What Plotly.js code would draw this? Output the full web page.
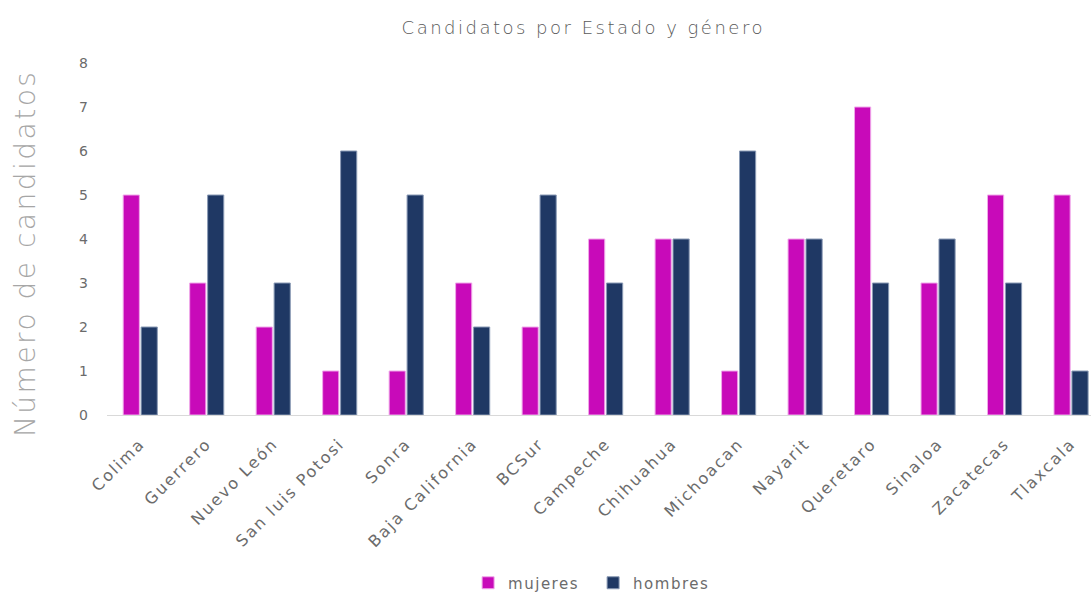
<!DOCTYPE html>
<html>
<head>
<meta charset="utf-8">
<script src="https://cdn.plot.ly/plotly-3.0.1.min.js"></script>
<style>
html,body{margin:0;padding:0;background:#fff;}
#chart{width:1091px;height:594px;}
#chart .gtitle{letter-spacing:2.5px;}
#chart .annotation-text{letter-spacing:2.5px;}
#chart .xtick text{letter-spacing:2px;}
#chart .legendtext{letter-spacing:1.5px;}
</style>
</head>
<body>
<div id="chart"></div>
<script>
const categories = ["Colima","Guerrero","Nuevo León","San luis Potosi","Sonra","Baja California","BCSur","Campeche","Chihuahua","Michoacan","Nayarit","Queretaro","Sinaloa","Zacatecas","Tlaxcala"];
const mujeres = [5,3,2,1,1,3,2,4,4,1,4,7,3,5,5];
const hombres = [2,5,3,6,5,2,5,3,4,6,4,3,4,3,1];
const yTicks = [0,1,2,3,4,5,6,7,8];

const font = "'DejaVu Sans', Verdana, sans-serif";
const traces = [
  {type:"bar", name:"mujeres", x:categories, y:mujeres,
   marker:{color:"#c80ab9", line:{color:"#f0a8ea", width:1}}},
  {type:"bar", name:"hombres", x:categories, y:hombres,
   marker:{color:"#1f3864", line:{color:"#8a9ab5", width:1}}}
];
const layout = {
  width:1091, height:594,
  margin:{l:107, r:0, t:63, b:179, pad:0},
  paper_bgcolor:"#fff", plot_bgcolor:"#fff",
  font:{family:font, color:"#595959"},
  title:{text:"Candidatos por Estado y género", font:{size:18, color:"#595959", family:font, weight:300}, xref:"paper", x:0.484, xanchor:"center", yref:"container", y:0.953, yanchor:"middle"},
  barmode:"group", bargap:0.46, bargroupgap:0.1,
  xaxis:{type:"category", range:[-0.5, 14.3], tickangle:-45, tickfont:{size:16, color:"#6b6b6b"}, showgrid:false, showline:true, linecolor:"#d9d9d9", linewidth:1, ticks:"outside", ticklen:12, tickcolor:"rgba(0,0,0,0)", automargin:false, fixedrange:true},
  yaxis:{range:[0,8], tickvals:yTicks, ticktext:yTicks.map(String), tickfont:{size:14, color:"#6b6b6b"}, showgrid:false, zeroline:false, showline:false, ticks:"", ticklabelstandoff:18, automargin:false},
  annotations:[{text:"Número de candidatos", xref:"paper", yref:"paper", x:0, y:0.46, xanchor:"center", yanchor:"middle", xshift:-82, textangle:-90, showarrow:false, font:{size:28, color:"#a6a6a6", weight:300, family:font}}],
  showlegend:true,
  legend:{orientation:"h", xref:"paper", x:0.494, xanchor:"center", yref:"container", y:0.0185, yanchor:"middle", font:{size:15, color:"#6b6b6b"}, itemwidth:30, entrywidth:80, entrywidthmode:"pixels", traceorder:"normal"}
};
Plotly.newPlot("chart", traces, layout, {displayModeBar:false, staticPlot:true});
</script>
</body>
</html>
